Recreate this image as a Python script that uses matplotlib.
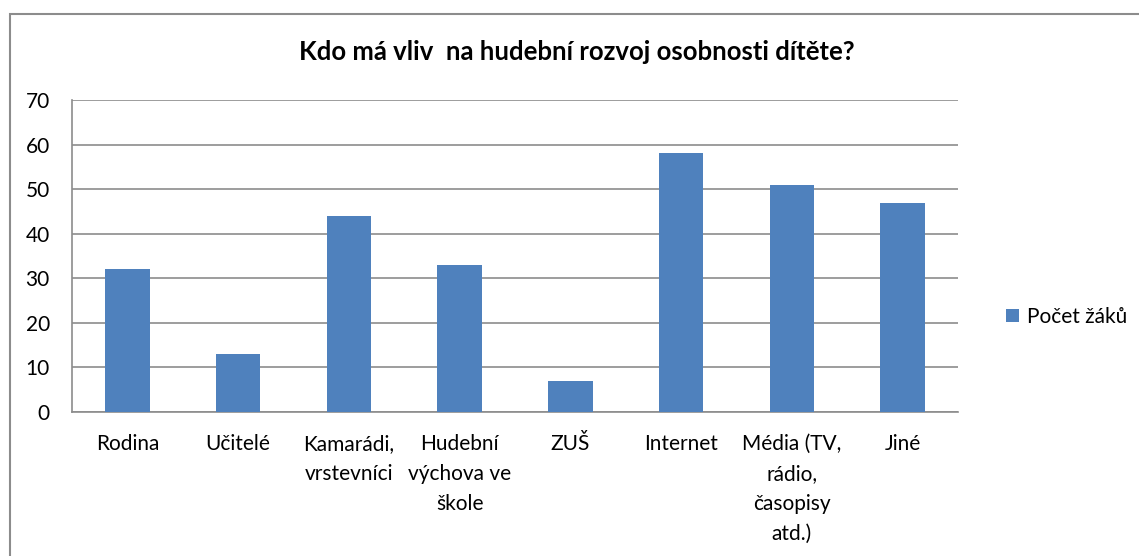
import matplotlib
matplotlib.use('Agg')
import matplotlib.pyplot as plt
from matplotlib.patches import Rectangle

categories = ['Rodina', 'Učitelé', 'Kamarádi,\nvrstevníci', 'Hudební\nvýchova ve\nškole',
              'ZUŠ', 'Internet', 'Média (TV,\nrádio,\nčasopisy\natd.)', 'Jiné']
values = [32, 13, 44, 33, 7, 58, 51, 47]
series_name = 'Počet žáků'
title = 'Kdo má vliv  na hudební rozvoj osobnosti dítěte?'

plt.rcParams['font.family'] = ['Lato', 'DejaVu Sans']

W, H = 1139, 556
fig = plt.figure(figsize=(W / 100, H / 100), dpi=100)

# outer chart frame (runs off right/bottom edge like the screenshot)
fig.patches.append(Rectangle((10 / W, -0.1), 1.2, 1 - 14 / H + 0.1, transform=fig.transFigure,
                             fill=False, edgecolor='#8c8c8c', linewidth=1.5))

left, right, top, bottom = 72, 958, 100, 412
ax = fig.add_axes([left / W, 1 - bottom / H, (right - left) / W, (bottom - top) / H])

x = range(len(categories))
ax.bar(x, values, width=0.4, color='#4f81bd', label=series_name, zorder=3)
ax.set_xlim(-0.5, len(categories) - 0.5)
ax.set_ylim(0, 70)
ax.set_yticks(range(0, 71, 10))
ax.grid(axis='y', color='#8c8c8c', linewidth=1.2, zorder=0)
for s in ['top', 'right']:
    ax.spines[s].set_visible(False)
ax.spines['left'].set_color('#8c8c8c')
ax.spines['bottom'].set_color('#8c8c8c')
ax.spines['left'].set_linewidth(1.2)
ax.spines['bottom'].set_linewidth(1.2)
ax.tick_params(axis='both', length=0, labelsize=15)
ax.tick_params(axis='y', pad=16)
ax.tick_params(axis='x', pad=16)
ax.set_xticks(list(x))
ax.set_xticklabels(categories, linespacing=1.62, va='top')

fig.text(577 / W, 1 - 52 / H, title, ha='center', va='center', fontsize=18.5, fontweight='bold')

fig.legend(loc='center left', bbox_to_anchor=(998 / W, 1 - 317 / H), frameon=False,
           fontsize=15, handlelength=0.6, handleheight=0.6, handletextpad=0.4, borderaxespad=0)

fig.savefig('out.png', dpi=100)
